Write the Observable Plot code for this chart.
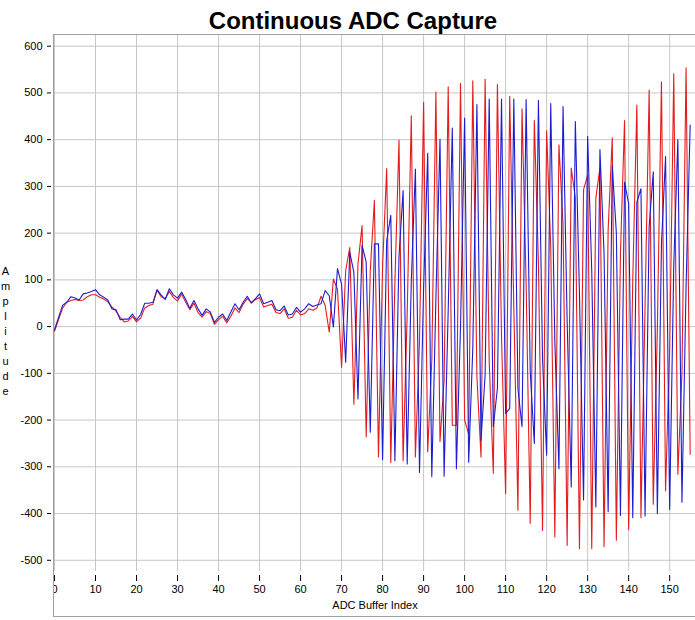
<!DOCTYPE html>
<html><head><meta charset="utf-8">
<script src="https://cdn.jsdelivr.net/npm/d3@7"></script>
<script src="https://cdn.jsdelivr.net/npm/@observablehq/plot@0.6"></script>
<style>
body{margin:0;background:#fff;}
#wrap{position:relative;width:695px;height:620px;overflow:hidden;}
#frame{position:absolute;left:53px;top:34px;width:642px;height:583px;box-sizing:border-box;border-left:1px solid #a0a0a0;border-top:1px solid #a0a0a0;border-bottom:1px solid #a0a0a0;pointer-events:none;}
#mask{position:absolute;left:0;top:583px;width:53px;height:14px;background:#fff;}
</style></head><body><div id="wrap"></div>
<script>
const title = "Continuous ADC Capture";
const xLabel = "ADC Buffer Index";
const yLabel = "Amplitude";
const xTicks = [0,10,20,30,40,50,60,70,80,90,100,110,120,130,140,150];
const yTicks = [-500,-400,-300,-200,-100,0,100,200,300,400,500,600];

// red channel, sample 0..155
const redSeries = [
 -10,15,40,52,56,58,56,57,64,68,
 68,63,59,53,42,33,20,10,12,22,
 10,18,40,45,48,78,64,60,75,62,
 55,70,52,36,50,30,20,32,28,5,
 15,22,8,22,40,30,48,60,52,58,
 62,42,45,48,30,28,38,18,20,35,
 25,28,38,35,40,65,45,-12,102,80,
 -87,120,169,-166,134,216,-236,120,270,-279,
 130,338,-291,93,399,-287,28,451,-279,-32,
 480,-268,-72,502,-246,-116,513,-211,-211,520,
 -200,-230,526,-107,-279,529,-75,-314,518,-21,
 -357,493,40,-393,466,95,-421,441,135,-436,
 419,171,-450,389,219,-468,339,276,-475,293,
 324,-475,275,340,-471,207,404,-457,156,441,
 -434,100,474,-409,43,506,-380,-4,524,-351,
 -50,541,-316,-98,554,-273
];

// blue channel, sample 0..155
const blueSeries = [
 -7,20,46,52,64,61,57,70,72,75,
 79,68,63,57,38,36,15,16,16,27,
 14,26,50,50,52,79,68,58,81,68,
 61,74,58,39,56,38,24,38,31,9,
 20,27,13,31,49,36,52,65,50,60,
 70,49,52,56,36,34,44,25,27,41,
 31,38,49,43,46,49,77,66,-1,124,
 91,-76,159,116,-155,174,138,-226,177,177,
 -285,184,238,-287,150,291,-294,97,337,-312,
 81,371,-321,60,401,-320,35,425,-304,-2,
 446,-290,-45,475,-243,-104,487,-214,-132,487,
 -186,-175,487,-133,-214,486,-96,-250,484,-69,
 -275,477,-33,-304,471,12,-343,439,72,-371,
 407,119,-386,379,157,-396,344,200,-404,309,
 263,-409,266,295,-405,214,331,-400,176,364,
 -391,131,400,-376,85,431
];

const font = "'Liberation Sans', Arial, Helvetica, sans-serif";

const chart = Plot.plot({
  width: 695, height: 620,
  marginTop: 34, marginBottom: 49, marginLeft: 54, marginRight: 0,
  style: {fontFamily: font, fontSize: "11px", color: "#000", background: "#fff", overflow: "visible"},
  x: {domain: [0, 156.3], axis: null},
  y: {domain: [-524, 625], axis: null},
  marks: [
    Plot.gridX(xTicks, {stroke: "#c6c6c6", strokeOpacity: 1}),
    Plot.gridY(yTicks, {stroke: "#c6c6c6", strokeOpacity: 1}),
    Plot.lineY(redSeries, {stroke: "#e41c1c", strokeWidth: 1.1}),
    Plot.lineY(blueSeries, {stroke: "#1c1cd2", strokeWidth: 1.1}),
    Plot.axisY({ticks: yTicks, tickSize: 4, tickPadding: 5, dx: -3, tickFormat: d => String(d), stroke: "#000", fill: "#000"}),
    Plot.axisX({ticks: xTicks, tickSize: 6, tickPadding: 4, dy: 4, tickFormat: d => String(d), stroke: "#000", fill: "#000"}),
    Plot.text([title], {frameAnchor: "top", dx: -22, dy: -6, lineAnchor: "bottom", fontSize: 24, fontWeight: "bold", fill: "#000"}),
    Plot.text([xLabel], {frameAnchor: "bottom", dy: 34, lineAnchor: "middle", fontSize: 11, fill: "#000"}),
    Plot.text([yLabel.split("").join("\n")], {frameAnchor: "left", dx: -49, dy: 27, lineAnchor: "middle", textAnchor: "middle", lineHeight: 1.36, fontSize: 11, fill: "#000"})
  ]
});

const wrap = document.getElementById("wrap");
wrap.appendChild(chart);
const mask = document.createElement("div"); mask.id = "mask"; wrap.appendChild(mask);
const frame = document.createElement("div"); frame.id = "frame"; wrap.appendChild(frame);
</script></body></html>
